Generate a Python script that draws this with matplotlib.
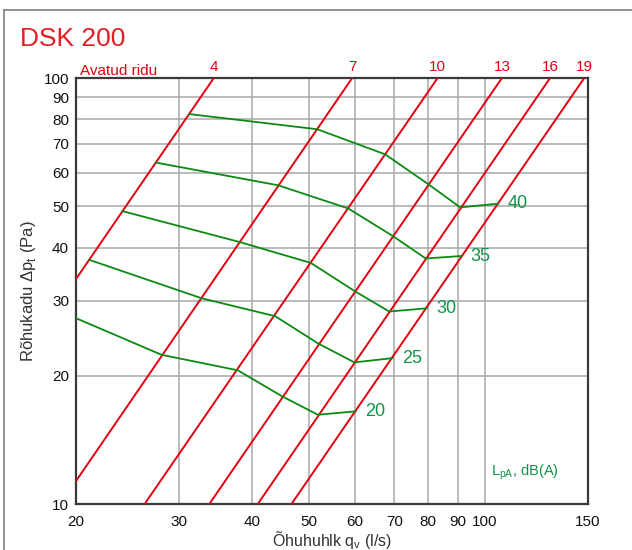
import matplotlib
matplotlib.use("Agg")
import matplotlib.pyplot as plt
from matplotlib.ticker import FixedLocator, FixedFormatter, NullLocator
from matplotlib.lines import Line2D

plt.rcParams['font.family'] = ['Liberation Sans', 'DejaVu Sans']
plt.rcParams['mathtext.fontset'] = 'custom'
plt.rcParams['mathtext.rm'] = 'Liberation Sans'

# ---- data ----
x_ticks = [20, 30, 40, 50, 60, 70, 80, 90, 100, 150]
y_ticks = [10, 20, 30, 40, 50, 60, 70, 80, 90, 100]

# opening lines (Avatud ridu): flow at 10 Pa and 100 Pa
open_labels = ["4", "7", "10", "13", "16", "19"]
open_q_at_10 = [10.9, 18.8, 26.2, 33.8, 40.9, 46.7]
open_q_at_100 = [34.4, 59.3, 83.0, 106.9, 129.2, 147.8]

# sound level curves LpA dB(A)
snd_labels = ["20", "25", "30", "35", "40"]
snd_q = [
    [20.0, 28.0, 37.8, 45.0, 51.8, 60.1],
    [21.1, 32.8, 43.8, 51.9, 59.8, 69.5],
    [24.0, 38.1, 50.4, 59.9, 68.6, 79.5],
    [27.4, 44.3, 58.4, 69.7, 79.2, 91.0],
    [31.2, 51.7, 67.5, 80.2, 90.7, 105.4],
]
snd_dp = [
    [27.3, 22.4, 20.6, 17.9, 16.2, 16.5],
    [37.4, 30.4, 27.6, 23.8, 21.5, 22.0],
    [48.7, 41.2, 36.8, 31.6, 28.3, 28.8],
    [63.3, 56.0, 49.4, 42.5, 37.7, 38.2],
    [82.3, 75.8, 66.2, 56.2, 49.7, 50.7],
]

RED = '#e3000f'
GREEN_L = '#0b8a12'
GREEN_T = '#13944a'

W, H = 632, 550
fig = plt.figure(figsize=(W / 100, H / 100), dpi=100)
ax = fig.add_axes([76 / W, 1 - 504 / H, (588 - 76) / W, (504 - 78) / H])
ax.set_xscale('log')
ax.set_yscale('log')
ax.set_xlim(20, 150)
ax.set_ylim(10, 100)

ax.xaxis.set_major_locator(FixedLocator(x_ticks))
ax.xaxis.set_major_formatter(FixedFormatter([str(v) for v in x_ticks]))
ax.xaxis.set_minor_locator(NullLocator())
ax.yaxis.set_major_locator(FixedLocator(y_ticks))
ax.yaxis.set_major_formatter(FixedFormatter([str(v) for v in y_ticks]))
ax.yaxis.set_minor_locator(NullLocator())
ax.tick_params(length=0, labelsize=11, colors='#111111')
ax.tick_params(axis='x', pad=8)
ax.tick_params(axis='y', pad=5)
ax.grid(True, color='#a8a8a8', lw=1.1)
ax.set_axisbelow(True)
for s in ax.spines.values():
    s.set_color('#3a3a3a')
    s.set_linewidth(1.6)

for q10, q100 in zip(open_q_at_10, open_q_at_100):
    ax.plot([q10, q100], [10, 100], color=RED, lw=1.4, zorder=3)

for lab, q100 in zip(open_labels, open_q_at_100):
    ax.annotate(lab, xy=(q100, 100), xytext=(0, 3), textcoords='offset points',
                ha='center', va='bottom', color=RED, fontsize=11,
                annotation_clip=False)
ax.text(0.008, 1.0, "Avatud ridu", transform=ax.transAxes, ha='left',
        va='bottom', color=RED, fontsize=11)

for lab, qs, dps in zip(snd_labels, snd_q, snd_dp):
    ax.plot(qs, dps, color=GREEN_L, lw=1.3, zorder=4)
    ax.annotate(lab, xy=(qs[-1], dps[-1]), xytext=(7, 0),
                textcoords='offset points', ha='left', va='center',
                color=GREEN_T, fontsize=13)

ax.text(0.81, 0.075, r"L$_\mathregular{pA}$, dB(A)", transform=ax.transAxes,
        color=GREEN_T, fontsize=10.5, ha='left', va='center')

ax.set_xlabel(r"Õhuhuhlk q$_\mathregular{v}$ (l/s)", fontsize=11.5,
              color='#333333', labelpad=0)
ax.set_ylabel(r"Rõhukadu Δp$_\mathregular{t}$ (Pa)", fontsize=12,
              color='#333333', labelpad=4)

fig.text(20 / W, 1 - 46 / H, "DSK 200", color='#e31e24', fontsize=19,
         ha='left', va='baseline')

# outer frame (top and left edges)
fig.add_artist(Line2D([4 / W, 1.0], [1 - 10 / H, 1 - 10 / H],
                      transform=fig.transFigure, color='#808080', lw=1.2))
fig.add_artist(Line2D([4 / W, 4 / W], [0, 1 - 10 / H],
                      transform=fig.transFigure, color='#808080', lw=1.2))

fig.savefig("out.png", dpi=100)
